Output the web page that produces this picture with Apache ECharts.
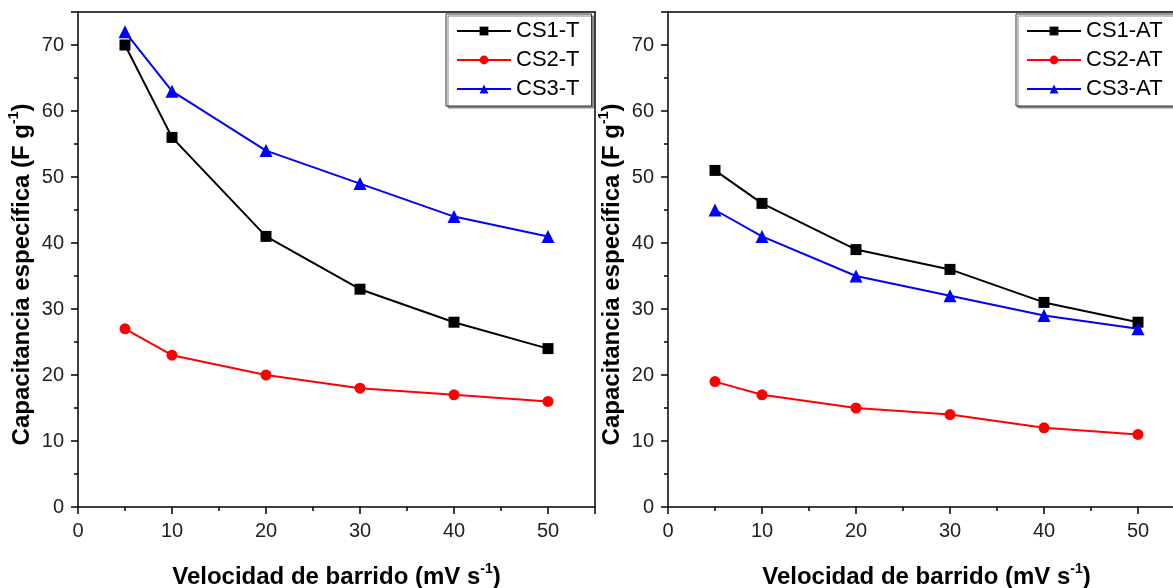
<!DOCTYPE html>
<html><head><meta charset="utf-8">
<script src="https://cdn.jsdelivr.net/npm/echarts@6/dist/echarts.min.js"></script>
<style>html,body{margin:0;padding:0;background:#fff;overflow:hidden}#c{width:1173px;height:588px}</style>
</head><body><div id="c"></div>
<script>
const xValues = [5, 10, 20, 30, 40, 50];
const cs1T = [70, 56, 41, 33, 28, 24];
const cs2T = [27, 23, 20, 18, 17, 16];
const cs3T = [72, 63, 54, 49, 44, 41];
const cs1AT = [51, 46, 39, 36, 31, 28];
const cs2AT = [19, 17, 15, 14, 12, 11];
const cs3AT = [45, 41, 35, 32, 29, 27];
const namesLeft = ['CS1-T', 'CS2-T', 'CS3-T'];
const namesRight = ['CS1-AT', 'CS2-AT', 'CS3-AT'];

const FONT = '"Liberation Sans", Arial, sans-serif';
const pair = (ys) => xValues.map((x, i) => [x, ys[i]]);

const nameRich = {
  b: { fontFamily: FONT, fontSize: 24, fontWeight: 'bold', color: '#000', verticalAlign: 'bottom', lineHeight: 27 },
  s: { fontFamily: FONT, fontSize: 14, fontWeight: 'bold', color: '#000', verticalAlign: 'top', lineHeight: 27 }
};

function xAxis(idx) {
  return {
    type: 'value', gridIndex: idx, min: 0, max: 55, interval: 10,
    name: '{b|Velocidad de barrido (mV s}{s|-1}{b|)}',
    nameLocation: 'middle', nameGap: 55,
    nameTextStyle: { rich: nameRich },
    axisLine: { show: true, onZero: false, lineStyle: { color: '#000', width: 1.5 } },
    axisTick: { show: true, inside: false, length: 7, lineStyle: { color: '#000', width: 1.5 } },
    minorTick: { show: true, splitNumber: 2, length: 4, lineStyle: { color: '#000', width: 1.5 } },
    axisLabel: { fontFamily: FONT, fontSize: 20, color: '#222', margin: 14,
      formatter: v => (v % 10 === 0 ? String(v) : '') },
    splitLine: { show: false }
  };
}
function xAxisTop(idx) {
  return {
    type: 'value', gridIndex: idx, min: 0, max: 55, position: 'top',
    axisLine: { show: true, onZero: false, lineStyle: { color: '#000', width: 1.5 } },
    axisTick: { show: false }, axisLabel: { show: false }, splitLine: { show: false }
  };
}
function yAxis(idx) {
  return {
    type: 'value', gridIndex: idx, min: 0, max: 75, interval: 10,
    name: '{b|Capacitancia específica (F g}{s|-1}{b|)}',
    nameLocation: 'middle', nameGap: 44, nameRotate: 90,
    nameTextStyle: { rich: nameRich, padding: [0, 30, 0, 0] },
    axisLine: { show: true, onZero: false, lineStyle: { color: '#000', width: 1.5 } },
    axisTick: { show: true, inside: false, length: 7, lineStyle: { color: '#000', width: 1.5 } },
    minorTick: { show: true, splitNumber: 2, length: 4, lineStyle: { color: '#000', width: 1.5 } },
    axisLabel: { fontFamily: FONT, fontSize: 20, color: '#222', margin: 14,
      formatter: v => (v % 10 === 0 ? String(v) : '') },
    splitLine: { show: false }
  };
}
function yAxisRight(idx) {
  return {
    type: 'value', gridIndex: idx, min: 0, max: 75, position: 'right',
    axisLine: { show: true, onZero: false, lineStyle: { color: '#000', width: 1.5 } },
    axisTick: { show: false }, axisLabel: { show: false }, splitLine: { show: false }
  };
}
const colors = ['#000000', '#ff0000', '#0000ff'];
const symbols = ['rect', 'circle', 'triangle'];
const sizes = [11, 11, 13];
function series(name, ys, idx, k) {
  return {
    name, type: 'line', xAxisIndex: idx * 2, yAxisIndex: idx * 2, data: pair(ys),
    symbol: symbols[k], symbolSize: sizes[k], showSymbol: true,
    lineStyle: { color: colors[k], width: 2 }, itemStyle: { color: colors[k] },
    animation: false
  };
}
function legend(names, left) {
  return {
    data: names, left: left, top: 14, orient: 'vertical', itemGap: 7,
    itemWidth: 54, itemHeight: 11, padding: [6, 12, 6, 10],
    backgroundColor: '#fff', borderColor: '#333', borderWidth: 1,
    shadowColor: '#888', shadowOffsetX: 2, shadowOffsetY: 2, shadowBlur: 0,
    textStyle: { fontFamily: FONT, fontSize: 22, color: '#000', padding: [0, 0, 0, 0] }
  };
}
const gridCommon = { top: 12, height: 495, width: 517, outerBoundsMode: 'none', containLabel: false };
const chart = echarts.init(document.getElementById('c'), null, { renderer: 'canvas' });
chart.setOption({
  backgroundColor: '#fff',
  animation: false,
  grid: [
    Object.assign({ left: 78 }, gridCommon),
    Object.assign({ left: 668 }, gridCommon)
  ],
  xAxis: [xAxis(0), xAxisTop(0), xAxis(1), xAxisTop(1)],
  yAxis: [yAxis(0), yAxisRight(0), yAxis(1), yAxisRight(1)],
  legend: [legend(namesLeft, 446), legend(namesRight, 1016)],
  series: [
    series(namesLeft[0], cs1T, 0, 0), series(namesLeft[1], cs2T, 0, 1), series(namesLeft[2], cs3T, 0, 2),
    series(namesRight[0], cs1AT, 1, 0), series(namesRight[1], cs2AT, 1, 1), series(namesRight[2], cs3AT, 1, 2)
  ]
});
</script></body></html>
